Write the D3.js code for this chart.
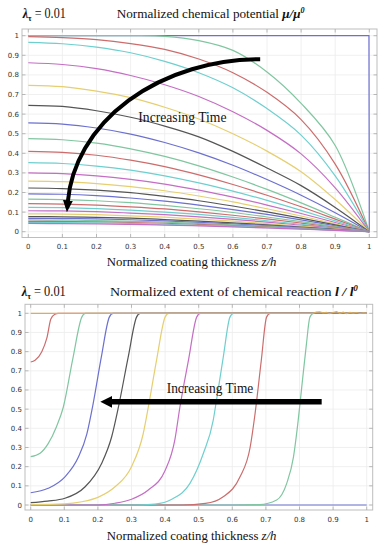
<!DOCTYPE html>
<html>
<head>
<meta charset="utf-8">
<script src="https://cdn.jsdelivr.net/npm/d3@7"></script>
<style>
  body { margin: 0; background: #fff; }
  svg { display: block; }
  .tick-label { font-family: "DejaVu Sans", sans-serif; font-size: 7px; fill: #333; }
  .serif { font-family: "Liberation Serif", "Times New Roman", serif; fill: #111; }
</style>
</head>
<body>
<svg id="chart" width="384" height="550"></svg>
<script>
// ========== DATA ==========
const tickValues = [0, 0.1, 0.2, 0.3, 0.4, 0.5, 0.6, 0.7, 0.8, 0.9, 1];
const tickLabels = ["0", "0.1", "0.2", "0.3", "0.4", "0.5", "0.6", "0.7", "0.8", "0.9", "1"];

// Mathematica-style cycle: blue, green, red, cyan, magenta, yellow, black
const lineColors = ["#6c70cf", "#80c6a0", "#cc6c6c", "#6fcfcf", "#c46ec4", "#e6cf70", "#555555"];

// chemical potential, sampled at z/h = 0, 0.1 ... 1
const potentialZ = [0, 0.1, 0.2, 0.3, 0.4, 0.5, 0.6, 0.7, 0.8, 0.9, 1];
const initialPotential = [[0, 1], [0.999, 1], [1, 0]];
const potentialCurves = [
  [1, 1, 1, 1, 0.997, 0.975, 0.925, 0.815, 0.655, 0.44, 0],
  [0.995, 0.990, 0.980, 0.960, 0.930, 0.881, 0.811, 0.711, 0.572, 0.345, 0],
  [0.966, 0.959, 0.942, 0.913, 0.869, 0.811, 0.734, 0.628, 0.493, 0.285, 0],
  [0.862, 0.853, 0.832, 0.797, 0.750, 0.690, 0.612, 0.517, 0.397, 0.224, 0],
  [0.747, 0.740, 0.717, 0.684, 0.635, 0.575, 0.500, 0.411, 0.306, 0.164, 0],
  [0.645, 0.639, 0.617, 0.584, 0.539, 0.484, 0.410, 0.325, 0.235, 0.124, 0],
  [0.555, 0.549, 0.529, 0.498, 0.455, 0.402, 0.339, 0.266, 0.186, 0.097, 0],
  [0.475, 0.469, 0.452, 0.423, 0.384, 0.336, 0.279, 0.216, 0.147, 0.074, 0],
  [0.410, 0.405, 0.390, 0.365, 0.332, 0.290, 0.241, 0.186, 0.127, 0.064, 0],
  [0.352, 0.348, 0.335, 0.314, 0.285, 0.249, 0.207, 0.160, 0.109, 0.055, 0],
  [0.300, 0.296, 0.285, 0.267, 0.243, 0.212, 0.176, 0.136, 0.093, 0.047, 0],
  [0.258, 0.255, 0.245, 0.230, 0.209, 0.182, 0.152, 0.117, 0.080, 0.040, 0],
  [0.223, 0.220, 0.212, 0.199, 0.180, 0.158, 0.131, 0.101, 0.069, 0.035, 0],
  [0.193, 0.191, 0.184, 0.172, 0.156, 0.136, 0.113, 0.088, 0.060, 0.030, 0],
  [0.166, 0.164, 0.158, 0.148, 0.134, 0.117, 0.098, 0.075, 0.051, 0.026, 0],
  [0.143, 0.141, 0.136, 0.127, 0.116, 0.101, 0.084, 0.065, 0.044, 0.022, 0],
  [0.124, 0.123, 0.118, 0.110, 0.100, 0.088, 0.073, 0.056, 0.038, 0.019, 0],
  [0.107, 0.106, 0.102, 0.095, 0.087, 0.076, 0.063, 0.049, 0.033, 0.017, 0],
  [0.091, 0.090, 0.087, 0.081, 0.074, 0.064, 0.054, 0.041, 0.028, 0.014, 0],
  [0.077, 0.076, 0.073, 0.069, 0.062, 0.054, 0.045, 0.035, 0.024, 0.012, 0],
  [0.068, 0.067, 0.065, 0.061, 0.055, 0.048, 0.040, 0.031, 0.021, 0.011, 0],
  [0.060, 0.059, 0.057, 0.053, 0.049, 0.042, 0.035, 0.027, 0.019, 0.009, 0],
  [0.053, 0.052, 0.050, 0.047, 0.043, 0.037, 0.031, 0.024, 0.016, 0.008, 0],
  [0.047, 0.046, 0.045, 0.042, 0.038, 0.033, 0.028, 0.021, 0.015, 0.007, 0],
  [0.042, 0.041, 0.040, 0.037, 0.034, 0.030, 0.025, 0.019, 0.013, 0.007, 0]
];

// extent of reaction, [z/h, l/l0] pairs, earliest time first
const reactionCurves = [
  [[0, 0], [1, 0]],
  [[0, 0], [0.6, 0], [0.68, 0.002], [0.732, 0.026], [0.762, 0.113], [0.782, 0.25], [0.796, 0.44], [0.807, 0.62], [0.82, 0.83], [0.831, 0.98], [0.842, 1], [1, 1]],
  [[0, 0], [0.45, 0], [0.52, 0.008], [0.573, 0.043], [0.623, 0.147], [0.653, 0.30], [0.668, 0.48], [0.686, 0.75], [0.702, 0.98], [0.713, 1], [1, 1]],
  [[0, 0], [0.3, 0], [0.37, 0.005], [0.42, 0.03], [0.474, 0.113], [0.514, 0.27], [0.543, 0.44], [0.553, 0.547], [0.573, 0.77], [0.593, 0.98], [0.604, 1], [1, 1]],
  [[0, 0], [0.2, 0], [0.251, 0.009], [0.30, 0.03], [0.35, 0.078], [0.40, 0.18], [0.429, 0.34], [0.444, 0.51], [0.47, 0.76], [0.494, 0.98], [0.505, 1], [1, 1]],
  [[0, 0.002], [0.1, 0.006], [0.152, 0.017], [0.2, 0.04], [0.251, 0.095], [0.30, 0.2], [0.335, 0.373], [0.35, 0.51], [0.375, 0.76], [0.40, 0.98], [0.411, 1], [1, 1]],
  [[0, 0.012], [0.05, 0.02], [0.102, 0.035], [0.162, 0.095], [0.211, 0.217], [0.241, 0.356], [0.261, 0.51], [0.29, 0.77], [0.315, 0.98], [0.326, 1], [1, 1]],
  [[0, 0.064], [0.052, 0.087], [0.102, 0.147], [0.142, 0.25], [0.167, 0.37], [0.186, 0.53], [0.21, 0.77], [0.234, 0.98], [0.245, 1], [1, 1]],
  [[0, 0.252], [0.028, 0.27], [0.052, 0.32], [0.077, 0.41], [0.097, 0.51], [0.125, 0.76], [0.152, 0.98], [0.163, 1], [1, 1]],
  [[0, 0.746], [0.013, 0.755], [0.033, 0.80], [0.048, 0.87], [0.06, 0.97], [0.072, 0.995], [0.082, 1], [1, 1]]
];
// fully reacted state with the numerical wiggle on the right
const fullyReacted = [[0, 1], [0.84, 1], [0.85, 1.006], [0.86, 1.008], [0.87, 1.002], [0.88, 1.005], [0.89, 0.998],
  [0.9, 1.004], [0.91, 1.009], [0.92, 1.0], [0.93, 1.006], [0.94, 0.999], [0.95, 1.005], [0.96, 1.001],
  [0.97, 1.004], [0.98, 0.999], [0.99, 1.002], [1, 1]];
const fullyReactedColor = "#d9ad62";

// annotation arrows in data coordinates
const potentialArrow = { from: [0.68, 0.88], to: [0.116, 0.155], center: [0.68, 0.1] };
const reactionArrow = [[0.866, 0.538], [0.24, 0.538]];

// ========== SETUP ==========
const svg = d3.select("#chart");

const defs = svg.append("defs");
defs.append("marker")
  .attr("id", "head-curved")
  .attr("viewBox", "0 0 12 10")
  .attr("refX", 1).attr("refY", 5)
  .attr("markerWidth", 12).attr("markerHeight", 11)
  .attr("markerUnits", "userSpaceOnUse")
  .attr("orient", "auto")
  .append("path").attr("d", "M0,0 L12,5 L0,10 Z").attr("fill", "#000");
defs.append("marker")
  .attr("id", "head-straight")
  .attr("viewBox", "0 0 12 12")
  .attr("refX", 1).attr("refY", 6)
  .attr("markerWidth", 12).attr("markerHeight", 12)
  .attr("markerUnits", "userSpaceOnUse")
  .attr("orient", "auto")
  .append("path").attr("d", "M0,0 L12,6 L0,12 Z").attr("fill", "#000");

// squeeze a text horizontally so it spans `width` px (anchor kept in place)
function fitText(sel, width, anchorX) {
  const w = sel.node().getBBox().width;
  const s = width / w;
  sel.attr("transform", `translate(${anchorX},0) scale(${s},1) translate(${-anchorX},0)`);
}

// faint grid for one panel
function drawGrid(x, y, frame) {
  const g = svg.append("g");
  g.selectAll(".gx").data(tickValues).join("line")
    .attr("x1", d => x(d)).attr("x2", d => x(d))
    .attr("y1", frame.top).attr("y2", frame.bottom)
    .attr("stroke", "#ececec").attr("stroke-width", 0.8);
  g.selectAll(".gy").data(tickValues).join("line")
    .attr("y1", d => y(d)).attr("y2", d => y(d))
    .attr("x1", frame.left).attr("x2", frame.right)
    .attr("stroke", "#ececec").attr("stroke-width", 0.8);
}

function drawFrame(x, y, frame) {
  const g = svg.append("g");
  g.append("rect")
    .attr("x", frame.left).attr("y", frame.top)
    .attr("width", frame.right - frame.left).attr("height", frame.bottom - frame.top)
    .attr("fill", "none").attr("stroke", "#bdbdbd").attr("stroke-width", 1);

  const tl = 3.5;
  tickValues.forEach(v => {
    g.append("line").attr("x1", x(v)).attr("x2", x(v)).attr("y1", frame.bottom).attr("y2", frame.bottom - tl);
    g.append("line").attr("x1", x(v)).attr("x2", x(v)).attr("y1", frame.top).attr("y2", frame.top + tl);
    g.append("line").attr("y1", y(v)).attr("y2", y(v)).attr("x1", frame.left).attr("x2", frame.left + tl);
    g.append("line").attr("y1", y(v)).attr("y2", y(v)).attr("x1", frame.right).attr("x2", frame.right - tl);
  });
  g.selectAll("line").attr("stroke", "#aaa").attr("stroke-width", 0.8);

  g.selectAll(".xl").data(tickValues).join("text")
    .attr("class", "tick-label")
    .attr("x", d => x(d)).attr("y", frame.bottom + 11.5)
    .attr("text-anchor", "middle")
    .text((d, i) => tickLabels[i]);
  g.selectAll(".yl").data(tickValues).join("text")
    .attr("class", "tick-label")
    .attr("x", frame.left - 3).attr("y", d => y(d) + 2.5)
    .attr("text-anchor", "end")
    .text((d, i) => tickLabels[i]);
}

function lambdaLabel(xPos, yPos, width) {
  const t = svg.append("text").attr("class", "serif")
    .attr("x", xPos).attr("y", yPos).attr("font-size", 14);
  t.append("tspan").attr("font-style", "italic").attr("font-weight", "bold").text("λ");
  t.append("tspan").attr("font-weight", "bold").attr("font-size", 9).attr("dy", 3).text("τ");
  t.append("tspan").attr("dy", -3).text(" = 0.01");
  fitText(t, width, xPos);
}

function axisTitle(cx, yPos) {
  const t = svg.append("text").attr("class", "serif")
    .attr("x", cx).attr("y", yPos).attr("font-size", 13.5).attr("text-anchor", "middle");
  t.append("tspan").text("Normalized coating thickness ");
  t.append("tspan").attr("font-style", "italic").text("z/h");
  fitText(t, 170, cx);
}

function timeLabel(xStart, yPos, width) {
  const t = svg.append("text").attr("class", "serif")
    .attr("x", xStart).attr("y", yPos).attr("font-size", 14)
    .text("Increasing Time");
  fitText(t, width, xStart);
}

// ========== TOP: CHEMICAL POTENTIAL ==========
const xTop = d3.scaleLinear().domain([0, 1]).range([28.3, 369.3]);
const yTop = d3.scaleLinear().domain([0, 1]).range([231.7, 35.7]);
const frameTop = { left: 22, right: 377, top: 29, bottom: 237.5 };

drawGrid(xTop, yTop, frameTop);

const topLine = d3.line().x(d => xTop(d[0])).y(d => yTop(d[1])).curve(d3.curveCatmullRom.alpha(0.5));
const topCurves = svg.append("g").attr("fill", "none").attr("stroke-width", 1.2);
topCurves.append("path")
  .attr("d", d3.line().x(d => xTop(d[0])).y(d => yTop(d[1]))(initialPotential))
  .attr("stroke", lineColors[0]);
potentialCurves.forEach((vals, i) => {
  topCurves.append("path")
    .attr("d", topLine(vals.map((v, j) => [potentialZ[j], v])))
    .attr("stroke", lineColors[(i + 1) % lineColors.length]);
});

drawFrame(xTop, yTop, frameTop);

{
  const [x0, y0] = [xTop(potentialArrow.from[0]), yTop(potentialArrow.from[1])];
  const [x1, y1] = [xTop(potentialArrow.to[0]), yTop(potentialArrow.to[1])];
  const rx = xTop(potentialArrow.center[0]) - xTop(0.113);
  const ry = yTop(potentialArrow.center[1]) - y0;
  svg.append("path")
    .attr("d", `M${x0},${y0} A${rx},${ry} 0 0 0 ${x1},${y1}`)
    .attr("fill", "none").attr("stroke", "#000").attr("stroke-width", 4)
    .attr("marker-end", "url(#head-curved)");
}

timeLabel(138.3, 122.5, 88.3);

lambdaLabel(22.7, 18.5, 44);
const topTitle = svg.append("text").attr("class", "serif")
  .attr("x", 116.7).attr("y", 18.5).attr("font-size", 13);
topTitle.append("tspan").text("Normalized chemical potential ");
topTitle.append("tspan").attr("font-weight", "bold").attr("font-style", "italic").text("μ/μ");
topTitle.append("tspan").attr("font-weight", "bold").attr("font-style", "italic")
  .attr("font-size", 8).attr("dy", -5).text("0");
fitText(topTitle, 188, 116.7);

axisTitle(191.7, 266.5);

// ========== BOTTOM: EXTENT OF REACTION ==========
const xBot = d3.scaleLinear().domain([0, 1]).range([30.7, 366.7]);
const yBot = d3.scaleLinear().domain([0, 1]).range([505, 313.3]);
const frameBot = { left: 25, right: 372.7, top: 304.3, bottom: 510 };

drawGrid(xBot, yBot, frameBot);

const botLine = d3.line().x(d => xBot(d[0])).y(d => yBot(d[1])).curve(d3.curveMonotoneX);
const botCurves = svg.append("g").attr("fill", "none").attr("stroke-width", 1.2);
reactionCurves.forEach((pts, i) => {
  botCurves.append("path")
    .attr("d", botLine(pts))
    .attr("stroke", lineColors[i % lineColors.length]);
});
botCurves.append("path")
  .attr("d", d3.line().x(d => xBot(d[0])).y(d => yBot(d[1]))(fullyReacted))
  .attr("stroke", fullyReactedColor);

drawFrame(xBot, yBot, frameBot);

svg.append("path")
  .attr("d", d3.line().x(d => xBot(d[0])).y(d => yBot(d[1]))(reactionArrow))
  .attr("fill", "none").attr("stroke", "#000").attr("stroke-width", 5.5)
  .attr("marker-end", "url(#head-straight)");

timeLabel(166.7, 393.5, 86.7);

lambdaLabel(21.7, 296, 45);
const botTitle = svg.append("text").attr("class", "serif")
  .attr("x", 110).attr("y", 296).attr("font-size", 13);
botTitle.append("tspan").text("Normalized extent of chemical reaction ");
botTitle.append("tspan").attr("font-weight", "bold").attr("font-style", "italic").text("l / l");
botTitle.append("tspan").attr("font-weight", "bold").attr("font-style", "italic")
  .attr("font-size", 8).attr("dy", -5).text("0");
fitText(botTitle, 248, 110);

axisTitle(191.7, 540);
</script>
</body>
</html>
